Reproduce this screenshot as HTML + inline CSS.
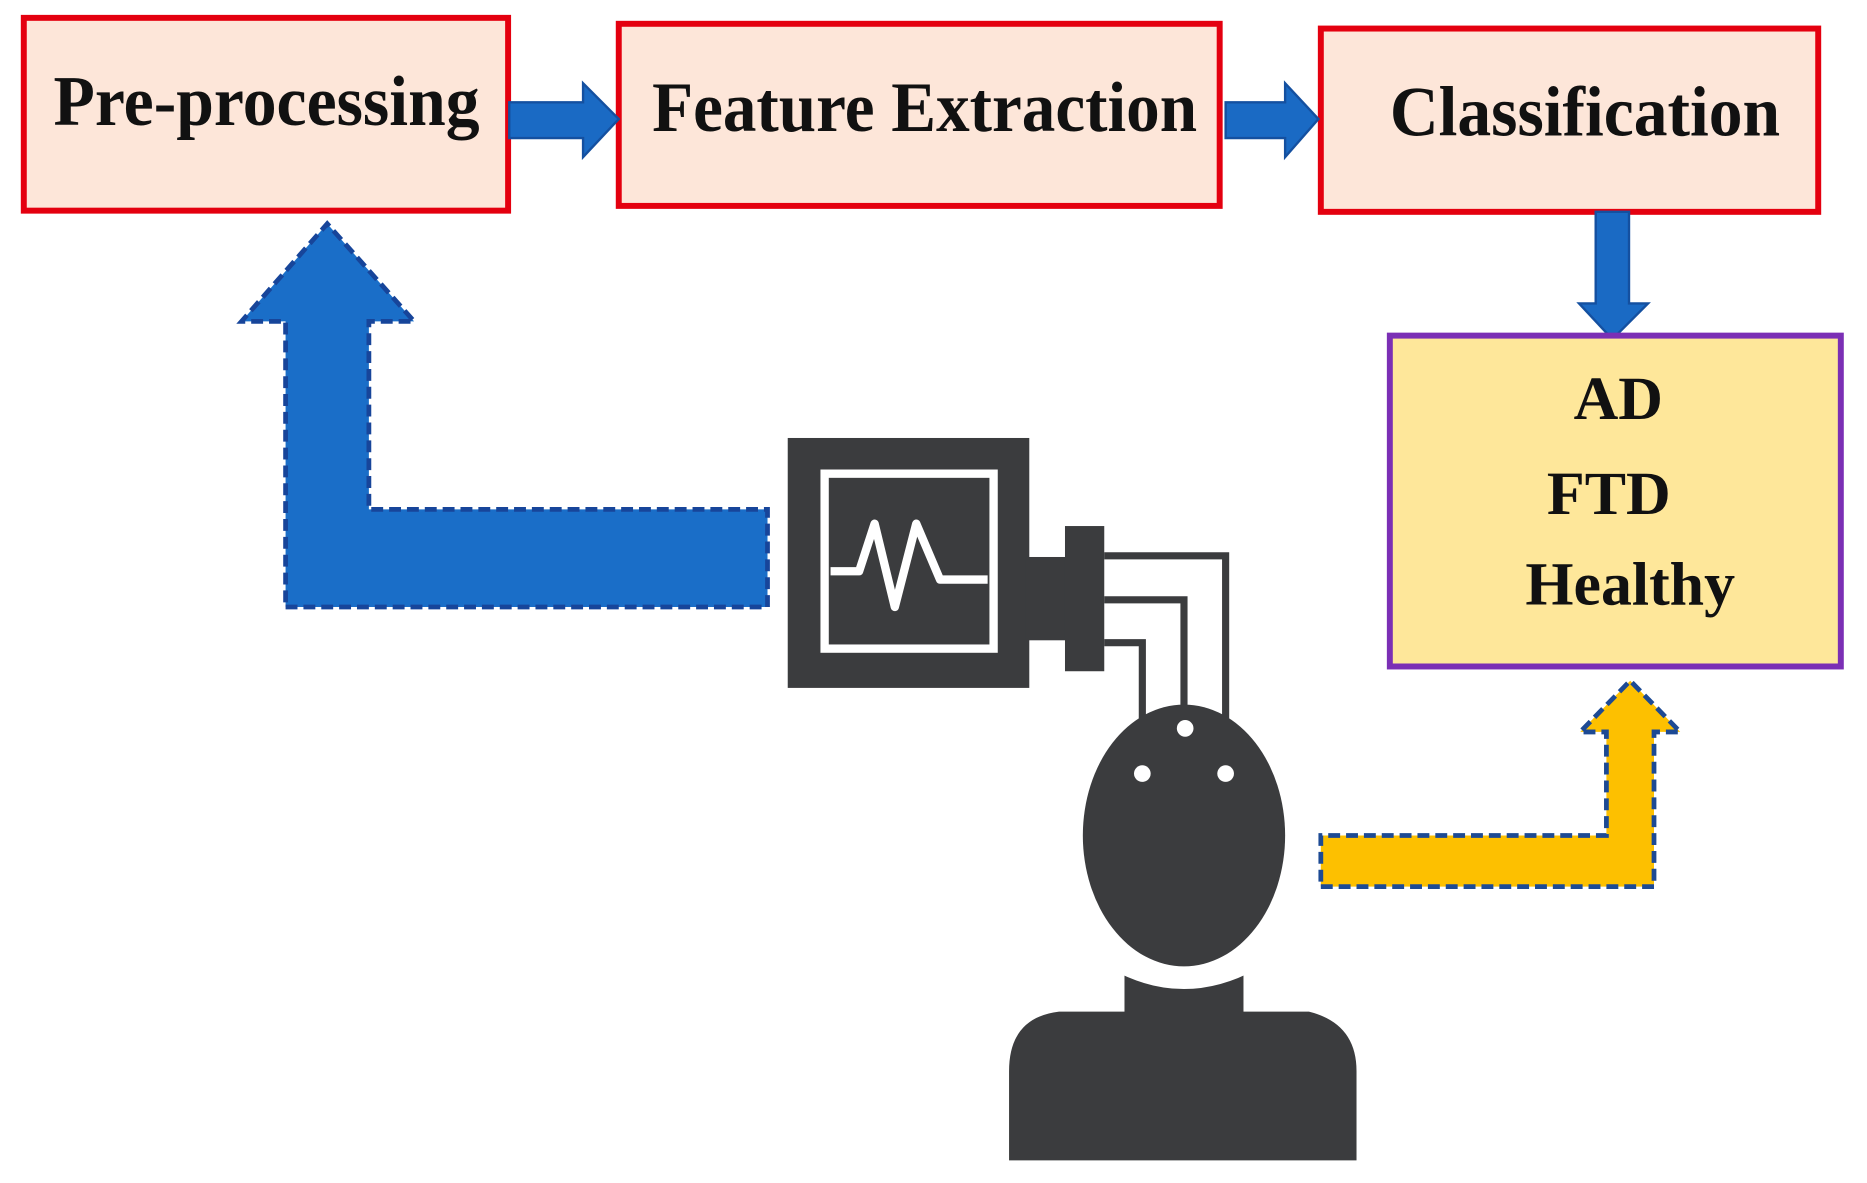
<!DOCTYPE html>
<html><head><meta charset="utf-8"><style>html,body{margin:0;padding:0;background:#fff}svg{display:block}</style></head>
<body>
<svg width="1867" height="1183" viewBox="0 0 1569 994" preserveAspectRatio="none" xmlns="http://www.w3.org/2000/svg">
<rect width="1569" height="994" fill="#fff"/>
<rect x="20" y="15" width="407" height="162" fill="#fde6d9" stroke="#e4000f" stroke-width="5"/>
<rect x="520" y="20" width="505" height="153" fill="#fde6d9" stroke="#e4000f" stroke-width="5"/>
<rect x="1110" y="24" width="418" height="154" fill="#fde6d9" stroke="#e4000f" stroke-width="5"/>
<g font-family="Liberation Serif, serif" font-weight="bold" fill="#111" font-size="60">
<text x="45" y="105" textLength="358" lengthAdjust="spacingAndGlyphs">Pre-processing</text>
<text x="548" y="110" textLength="458" lengthAdjust="spacingAndGlyphs">Feature Extraction</text>
<text x="1168" y="114" textLength="328" lengthAdjust="spacingAndGlyphs">Classification</text>
</g>
<g fill="#1a6ac4" stroke="#1450a0" stroke-width="2">
<polygon points="428,86 490,86 490,70 520,100 490,132 490,116 428,116"/>
<polygon points="1030,86 1080,86 1080,70 1108,100 1080,132 1080,116 1030,116"/>
<polygon points="1341,178 1369,178 1369,255 1385,255 1355,285 1327,255 1341,255"/>
</g>
<rect x="1168" y="282" width="379" height="278" fill="#fee79a" stroke="#7b2fb5" stroke-width="5"/>
<g font-family="Liberation Serif, serif" font-weight="bold" fill="#111" font-size="52" text-anchor="middle">
<text x="1360" y="352">AD</text>
<text x="1352" y="432">FTD</text>
<text x="1370" y="508">Healthy</text>
</g>
<polygon points="240,510 645,510 645,428 310,428 310,270 348,270 275,188 203,270 240,270" fill="#1a6ec8" stroke="#17459a" stroke-width="4" stroke-dasharray="10,5"/>
<polygon points="1110,745 1390,745 1390,615 1412,615 1370,572 1328,615 1350,615 1350,702 1110,702" fill="#fdc000" stroke="#1d4a94" stroke-width="4" stroke-dasharray="10,5"/>
<g fill="#3b3c3e">
<rect x="662" y="368" width="203" height="210"/>
<rect x="862" y="468" width="40" height="70"/>
<rect x="895" y="442" width="33" height="122"/>
</g>
<rect x="693" y="398" width="142" height="147" fill="none" stroke="#fff" stroke-width="7"/>
<polyline points="698,480 722,480 735,440 752,510 770,440 790,487 830,487" fill="none" stroke="#fff" stroke-width="7" stroke-linejoin="round"/>
<g fill="none" stroke="#3b3c3e" stroke-width="6">
<polyline points="928,467 1030,467 1030,610"/>
<polyline points="928,504 995,504 995,600"/>
<polyline points="928,540 960,540 960,610"/>
</g>
<ellipse cx="995" cy="702" rx="85" ry="110" fill="#3b3c3e"/>
<g fill="#fff"><circle cx="996" cy="612" r="7"/><circle cx="960" cy="650" r="7"/><circle cx="1030" cy="650" r="7"/></g>
<path d="M945,818 Q995,840 1045,818 L1045,850 L1100,850 Q1140,860 1140,900 L1140,975 L848,975 L848,900 Q848,855 890,850 L945,850 Z" fill="#3b3c3e"/>
<path d="M935,812 Q995,845 1055,812" fill="none" stroke="#fff" stroke-width="5"/>
</svg>
</body></html>
